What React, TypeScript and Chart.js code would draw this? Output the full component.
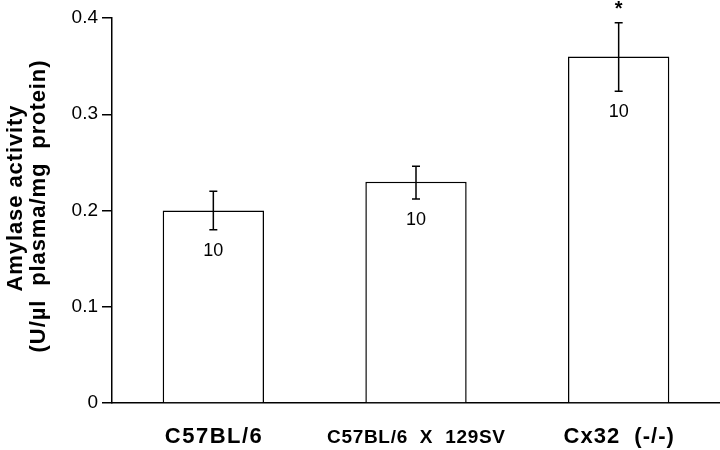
import React, { useEffect, useRef } from "react";
import { Chart, registerables } from "chart.js";

Chart.register(...registerables);

const categories = ["C57BL/6", "C57BL/6  X  129SV", "Cx32  (-/-)"];
const means = [0.2, 0.23, 0.36];
const errLow = [0.18, 0.212, 0.324];
const errHigh = [0.22, 0.246, 0.395];
const nLabels = ["10", "10", "10"];
const marks = ["", "", "*"];
const yTitleLines = ["Amylase activity", "(U/µl  plasma/mg  protein)"];
const yTicks = [0, 0.1, 0.2, 0.3, 0.4];

const FONT = '"Liberation Sans", Arial, Helvetica, sans-serif';

const overlayPlugin = {
  id: "overlay",
  afterDatasetsDraw(chart: any) {
    const ctx = chart.ctx as CanvasRenderingContext2D;
    const xs = chart.scales.x;
    const ys = chart.scales.y;
    ctx.save();
    ctx.strokeStyle = "#000";
    ctx.fillStyle = "#000";
    ctx.lineWidth = 1.5;
    for (let i = 0; i < means.length; i++) {
      const x = xs.getPixelForValue(i);
      const yLo = ys.getPixelForValue(errLow[i]);
      const yHi = ys.getPixelForValue(errHigh[i]);
      ctx.beginPath();
      ctx.moveTo(x, yLo);
      ctx.lineTo(x, yHi);
      ctx.moveTo(x - 4, yLo);
      ctx.lineTo(x + 4, yLo);
      ctx.moveTo(x - 4, yHi);
      ctx.lineTo(x + 4, yHi);
      ctx.stroke();
      ctx.font = `18px ${FONT}`;
      ctx.textAlign = "center";
      ctx.textBaseline = "middle";
      (ctx as any).letterSpacing = "0px";
      ctx.fillText(nLabels[i], x, yLo + 21);
      if (marks[i]) {
        ctx.font = `bold 20px ${FONT}`;
        ctx.textBaseline = "alphabetic";
        ctx.fillText(marks[i], x, yHi - 8);
      }
    }
    const sizes = [22, 19, 22];
    const spacing = [1.5, 0.7, 1];
    for (let i = 0; i < categories.length; i++) {
      const x = xs.getPixelForValue(i);
      ctx.font = `bold ${sizes[i]}px ${FONT}`;
      (ctx as any).letterSpacing = `${spacing[i]}px`;
      ctx.textAlign = "center";
      ctx.textBaseline = "alphabetic";
      ctx.fillText(categories[i], x + spacing[i] / 2, 443);
    }
    ctx.font = `bold 22px ${FONT}`;
    (ctx as any).letterSpacing = "0.9px";
    ctx.textAlign = "center";
    ctx.textBaseline = "middle";
    const pos = [
      { x: 16, y: 198 },
      { x: 39, y: 206 },
    ];
    yTitleLines.forEach((line, k) => {
      ctx.save();
      ctx.translate(pos[k].x, pos[k].y);
      ctx.rotate(-Math.PI / 2);
      ctx.fillText(line, 0, 0);
      ctx.restore();
    });
    ctx.restore();
  },
};

export default function App() {
  const ref = useRef<HTMLCanvasElement | null>(null);
  useEffect(() => {
    if (!ref.current) return;
    const chart = new Chart(ref.current, {
      type: "bar",
      data: {
        labels: categories,
        datasets: [
          {
            data: means,
            backgroundColor: "#ffffff",
            borderColor: "#000000",
            borderWidth: 1.5,
            barPercentage: 0.5,
            categoryPercentage: 1,
          },
        ],
      },
      options: {
        responsive: false,
        animation: false,
        layout: { padding: { top: 18, right: 0, left: 0, bottom: 0 } },
        plugins: {
          legend: { display: false },
          tooltip: { enabled: false },
        },
        scales: {
          x: {
            offset: true,
            grid: { display: false },
            border: { display: true, color: "#000", width: 1.5 },
            ticks: { display: false },
            afterFit: (s: any) => {
              s.height = 47;
            },
          },
          y: {
            min: 0,
            max: 0.4,
            afterBuildTicks: (s: any) => {
              s.ticks = yTicks.map((v) => ({ value: v }));
            },
            grid: {
              display: true,
              drawOnChartArea: false,
              drawTicks: true,
              tickLength: 10,
              color: "#000",
              lineWidth: 1.5,
            },
            border: { display: true, color: "#000", width: 1.5 },
            ticks: {
              color: "#000",
              padding: 4,
              font: { family: FONT, size: 19 },
              callback: (v: any) => (Number(v) === 0 ? "0" : Number(v).toFixed(1)),
            },
            afterFit: (s: any) => {
              s.width = 112;
            },
          },
        },
      },
      plugins: [overlayPlugin],
    });
    return () => chart.destroy();
  }, []);
  return (
    <div style={{ position: "absolute", left: 0, top: 0, width: 720, height: 450, background: "#fff" }}>
      <canvas ref={ref} width={720} height={450} />
    </div>
  );
}
